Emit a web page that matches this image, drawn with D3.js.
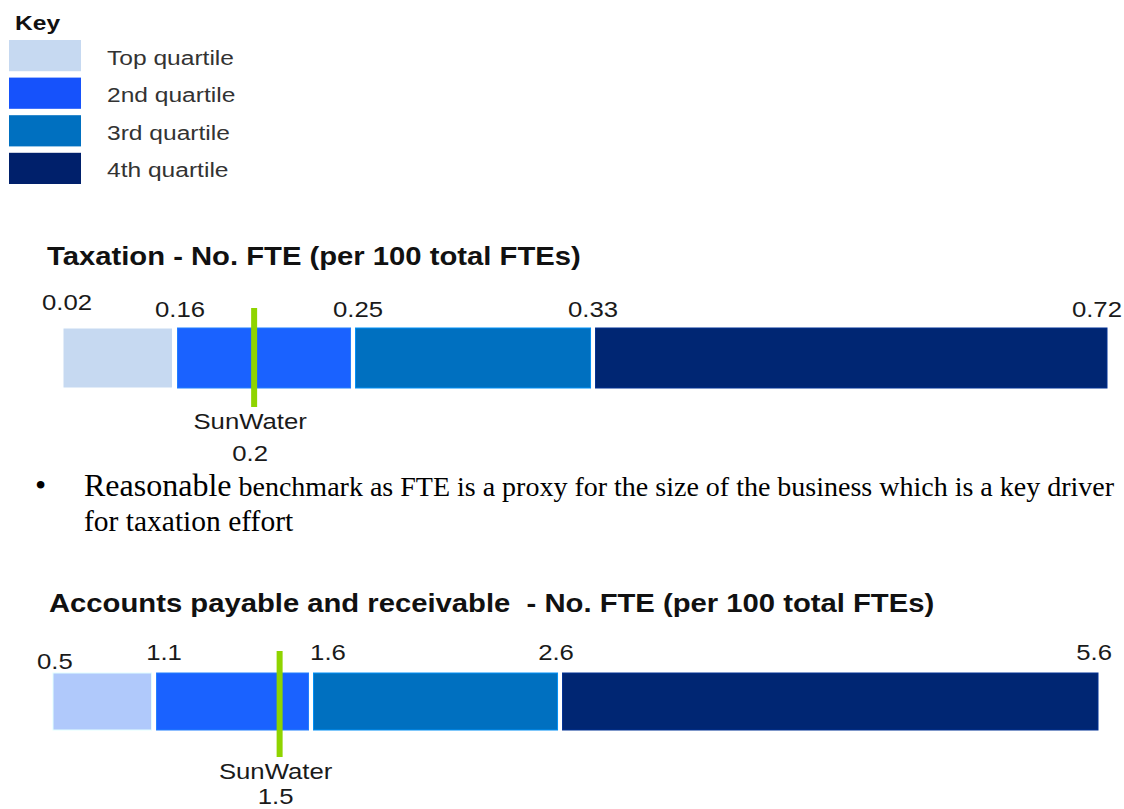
<!DOCTYPE html>
<html>
<head>
<meta charset="utf-8">
<script src="https://cdn.jsdelivr.net/npm/d3@7"></script>
<style>
  body { margin: 0; background: #fff; }
  svg { display: block; }
  text { white-space: pre; }
</style>
</head>
<body>
<div id="chart"></div>
<script>
// ---- data ----
const quartiles = ["Top quartile", "2nd quartile", "3rd quartile", "4th quartile"];
const legendColors = ["#c6d9f1", "#1652fb", "#0070c0", "#00206b"];

const taxTitle = "Taxation - No. FTE (per 100 total FTEs)";
const taxBreaks = [0.02, 0.16, 0.25, 0.33, 0.72];
const taxSunWater = 0.2;

const apTitle = "Accounts payable and receivable  - No. FTE (per 100 total FTEs)";
const apBreaks = [0.5, 1.1, 1.6, 2.6, 5.6];
const apSunWater = 1.5;

const markerName = "SunWater";
const bulletLead = "Reasonable";
const bulletRest = " benchmark as FTE is a proxy for the size of the business which is a key driver";
const bulletLine2 = "for taxation effort";

// ---- layout ----
const W = 1124, H = 809;
const SX = 1.17;            // source text is stretched horizontally
const SANS = "'Liberation Sans', Arial, sans-serif";
const SERIF = "'Liberation Serif', 'Times New Roman', serif";

const svg = d3.select("#chart").append("svg")
    .attr("width", W)
    .attr("height", H);

function stext(parent, x, y, str, size, opts = {}) {
    return parent.append("text")
        .attr("transform", `translate(${x},${y}) scale(${opts.sx || SX},1)`)
        .attr("text-anchor", opts.anchor || "start")
        .attr("font-family", opts.family || SANS)
        .attr("font-size", size)
        .attr("font-weight", opts.weight || "normal")
        .attr("fill", opts.fill || "#1a1a1a")
        .text(str);
}

// legend
const legend = svg.append("g");
stext(legend, 15, 30, "Key", 21, {weight: "bold", fill: "#111"});
const rowY = d3.scaleBand().domain(quartiles).range([40, 184]).paddingInner(0.17);
quartiles.forEach((q, i) => {
    legend.append("rect")
        .attr("x", 9).attr("y", rowY(q))
        .attr("width", 72).attr("height", rowY.bandwidth())
        .attr("fill", legendColors[i]);
    stext(legend, 107, rowY(q) + rowY.bandwidth() / 2 + 9, q, 21, {fill: "#333"});
});

// benchmark bars
const charts = [
    {
        title: taxTitle, breaks: taxBreaks, marker: taxSunWater,
        colors: ["#c6d9f1", "#1a62ff", "#0070c0", "#002673"],
        titleX: 47, titleY: 265,
        x0: 63, x1: 1107, stops: [0, 0.1073, 0.2778, 0.5077, 1],
        barTop: 328, barH: 60, markAbove: 20, markBelow: 19,
        nudge: [[-21, -7, "start"], [5, 0, "middle"], [5, 0, "middle"], [0, 0, "middle"], [15, 0, "end"]],
        labelBase: 317
    },
    {
        title: apTitle, breaks: apBreaks, marker: apSunWater,
        colors: ["#b0c9fb", "#1a62ff", "#0070c0", "#002673"],
        titleX: 49, titleY: 612,
        x0: 53, x1: 1098, stops: [0, 0.0967, 0.2469, 0.4852, 1],
        barTop: 673, barH: 57, markAbove: 22, markBelow: 27,
        nudge: [[-16, 9, "start"], [10, 0, "middle"], [17, 0, "middle"], [-4, 0, "middle"], [14, 0, "end"]],
        labelBase: 660
    }
];

const gap = 5;
charts.forEach(c => {
    const g = svg.append("g");
    stext(g, c.titleX, c.titleY, c.title, 25, {weight: "bold", fill: "#111"});

    const x = d3.scaleLinear()
        .domain(c.breaks)
        .range(c.stops.map(f => c.x0 + f * (c.x1 - c.x0)));

    const segs = d3.pairs(c.breaks);
    g.selectAll(".seg")
        .data(segs)
        .enter().append("rect")
        .attr("class", "seg")
        .attr("x", (d, i) => x(d[0]) + (i > 0 ? gap / 2 : 0))
        .attr("y", c.barTop)
        .attr("width", (d, i) => x(d[1]) - x(d[0]) - (i > 0 ? gap / 2 : 0) - (i < segs.length - 1 ? gap / 2 : 0))
        .attr("height", c.barH)
        .attr("fill", (d, i) => c.colors[i])
        .attr("stroke", (d, i) => d3.color(c.colors[i]).brighter(0.7))
        .attr("stroke-width", 1);

    c.breaks.forEach((v, i) => {
        const [dx, dy, anchor] = c.nudge[i];
        stext(g, x(v) + dx, c.labelBase + dy, String(v), 22, {anchor: anchor, fill: "#1a1a1a"});
    });

    // SunWater marker
    const mx = x(c.marker);
    g.append("line")
        .attr("x1", mx).attr("x2", mx)
        .attr("y1", c.barTop - c.markAbove)
        .attr("y2", c.barTop + c.barH + c.markBelow)
        .attr("stroke", "#8fd400")
        .attr("stroke-width", 6);
    const mb = c.barTop + c.barH + c.markBelow;
    stext(g, mx - 4, mb + 22, markerName, 22, {anchor: "middle"});
    stext(g, mx - 4, Math.min(mb + 54, H - 5), String(c.marker), 22, {anchor: "middle"});
});

// bullet note under the taxation bar
const note = svg.append("g");
stext(note, 35, 496, "\u2022", 32, {family: SERIF, sx: 1, fill: "#000"});
const line1 = note.append("text")
    .attr("x", 84).attr("y", 496)
    .attr("font-family", SERIF)
    .attr("fill", "#000");
line1.append("tspan").attr("font-size", 32).text(bulletLead);
line1.append("tspan").attr("font-size", 28).text(bulletRest);
stext(note, 84, 531, bulletLine2, 29.5, {family: SERIF, sx: 1, fill: "#000"});
</script>
</body>
</html>
